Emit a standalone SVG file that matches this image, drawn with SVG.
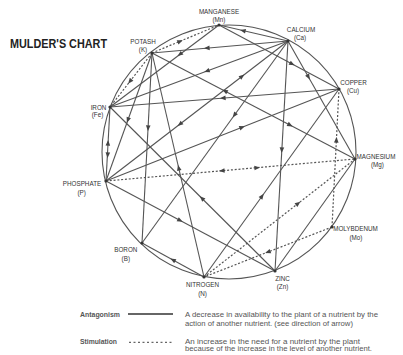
<svg xmlns="http://www.w3.org/2000/svg" width="403" height="355" viewBox="0 0 403 355">
<style>
.c{fill:none;stroke:#555;stroke-width:1.1}
.d{fill:none;stroke:#555;stroke-width:1.2;stroke-dasharray:2 1.8}
.lbl{font-family:"Liberation Sans",Arial,sans-serif;font-size:6.3px;fill:#333;text-anchor:middle}
.lg{font-family:"Liberation Sans",Arial,sans-serif;font-size:6.3px;fill:#555}
.dot{fill:#333}
</style>
<defs>
<polygon id="ah" points="3,0 -2.6,-2.3 -2.6,2.3" fill="#444"/>
</defs>
<rect width="403" height="355" fill="#fff"/>
<text x="10" y="48" font-family="'Liberation Sans',Arial,sans-serif" font-weight="bold" font-size="12.5" fill="#222" textLength="97" lengthAdjust="spacingAndGlyphs">MULDER'S CHART</text>

<g id="ring"><circle class="c" cx="229" cy="152" r="127"/></g>

<g id="connectors">
<!-- antagonism -->
<path class="c" d="M288 41 L219 25"/>
<path class="c" d="M288 41 L152 53"/>
<path class="c" d="M288 41 L110 107"/>
<path class="c" d="M288 41 L106 181"/>
<path class="c" d="M288 41 L142 243"/>
<path class="c" d="M288 41 L275 271"/>
<path class="c" d="M288 41 L355 159"/>
<path class="c" d="M219 25 L339 89"/>
<path class="c" d="M219 25 L110 107"/>
<path class="c" d="M339 89 L110 107"/>
<path class="c" d="M106 181 L339 89"/>
<path class="c" d="M204 277 L339 89"/>
<path class="c" d="M152 53 L355 159"/>
<path class="c" d="M152 53 L142 243"/>
<path class="c" d="M204 277 L152 53"/>
<path class="c" d="M204 277 L142 243"/>
<path class="c" d="M106 181 L275 271"/>
<path class="c" d="M275 271 L110 107"/>
<path class="c" d="M110 107 L106 181"/>
<path class="c" d="M152 53 L106 181"/>
<path class="c" d="M355 159 L275 271"/>
<!-- stimulation -->
<path class="d" d="M152 53 L219 25"/>
<path class="d" d="M152 53 L110 107"/>
<path class="d" d="M106 181 L355 159"/>
<path class="d" d="M204 277 L355 159"/>
<path class="d" d="M332 227 L204 277"/>
<path class="d" d="M332 227 L339 89"/>
<!-- arrowheads -->
<use href="#ah" transform="translate(243 30.6) rotate(193.05)"/>
<use href="#ah" transform="translate(207 48.1) rotate(174.96)"/>
<use href="#ah" transform="translate(207 71) rotate(159.66)"/>
<use href="#ah" transform="translate(242 76.4) rotate(-37.57)"/>
<use href="#ah" transform="translate(180 124.1) rotate(142.43)"/>
<use href="#ah" transform="translate(234.5 115) rotate(125.86)"/>
<use href="#ah" transform="translate(281.8 150) rotate(93.24)"/>
<use href="#ah" transform="translate(308.4 77) rotate(60.41)"/>
<use href="#ah" transform="translate(292 63.9) rotate(28.07)"/>
<use href="#ah" transform="translate(180 54.3) rotate(143.04)"/>
<use href="#ah" transform="translate(223 98.1) rotate(175.5)"/>
<use href="#ah" transform="translate(242 127.3) rotate(-21.54)"/>
<use href="#ah" transform="translate(262 196.2) rotate(-54.32)"/>
<use href="#ah" transform="translate(225 91.1) rotate(207.57)"/>
<use href="#ah" transform="translate(290 125.1) rotate(27.57)"/>
<use href="#ah" transform="translate(148.1 128) rotate(93.01)"/>
<use href="#ah" transform="translate(178.7 168) rotate(-103.07)"/>
<use href="#ah" transform="translate(173 260) rotate(-151.26)"/>
<use href="#ah" transform="translate(180 220.4) rotate(28.03)"/>
<use href="#ah" transform="translate(202 198.4) rotate(-135.17)"/>
<use href="#ah" transform="translate(108 143) rotate(-86.91)"/>
<use href="#ah" transform="translate(107.7 155) rotate(93.09)"/>
<use href="#ah" transform="translate(127.9 120) rotate(109.77)"/>
<use href="#ah" transform="translate(180 41.3) rotate(-22.69)"/>
<use href="#ah" transform="translate(130 81.3) rotate(127.87)"/>
<use href="#ah" transform="translate(222 170.8) rotate(174.95)"/>
<use href="#ah" transform="translate(257 167.7) rotate(-5.05)"/>
<use href="#ah" transform="translate(298 203.5) rotate(-38)"/>
<use href="#ah" transform="translate(268 252) rotate(158.66)"/>
<use href="#ah" transform="translate(336.4 140) rotate(-87.1)"/>
</g>

<g id="node-mn"><circle class="dot" cx="219" cy="25" r="1.6"/><text class="lbl" x="219" y="14">MANGANESE</text><text class="lbl" x="219" y="21.5">(Mn)</text></g>
<g id="node-ca"><circle class="dot" cx="288" cy="41" r="1.6"/><text class="lbl" x="301" y="31.5">CALCIUM</text><text class="lbl" x="300" y="39.5">(Ca)</text></g>
<g id="node-cu"><circle class="dot" cx="339" cy="89" r="1.6"/><text class="lbl" x="353.5" y="85">COPPER</text><text class="lbl" x="353" y="93">(Cu)</text></g>
<g id="node-mg"><circle class="dot" cx="355" cy="159" r="1.6"/><text class="lbl" x="376" y="159">MAGNESIUM</text><text class="lbl" x="377.5" y="167">(Mg)</text></g>
<g id="node-mo"><circle class="dot" cx="332" cy="227" r="1.6"/><text class="lbl" x="355.5" y="230.5">MOLYBDENUM</text><text class="lbl" x="356" y="239.5">(Mo)</text></g>
<g id="node-zn"><circle class="dot" cx="275" cy="271" r="1.6"/><text class="lbl" x="282.5" y="280.5">ZINC</text><text class="lbl" x="282.5" y="289">(Zn)</text></g>
<g id="node-n"><circle class="dot" cx="204" cy="277" r="1.6"/><text class="lbl" x="202.5" y="287.3">NITROGEN</text><text class="lbl" x="202.5" y="295.5">(N)</text></g>
<g id="node-b"><circle class="dot" cx="142" cy="243" r="1.6"/><text class="lbl" x="125.8" y="252">BORON</text><text class="lbl" x="125.8" y="260.5">(B)</text></g>
<g id="node-p"><circle class="dot" cx="106" cy="181" r="1.6"/><text class="lbl" x="82" y="186">PHOSPHATE</text><text class="lbl" x="81.7" y="195">(P)</text></g>
<g id="node-fe"><circle class="dot" cx="110" cy="107" r="1.6"/><text class="lbl" x="98.5" y="109.5">IRON</text><text class="lbl" x="97.5" y="117">(Fe)</text></g>
<g id="node-k"><circle class="dot" cx="152" cy="53" r="1.6"/><text class="lbl" x="143" y="44">POTASH</text><text class="lbl" x="143" y="51.5">(K)</text></g>

<g id="legend">
<text class="lg" x="80" y="317" font-weight="bold" fill="#333" textLength="40" lengthAdjust="spacingAndGlyphs">Antagonism</text>
<line x1="128" y1="314" x2="173" y2="314" stroke="#666" stroke-width="1.8"/>
<text class="lg" x="185" y="317" textLength="193" lengthAdjust="spacingAndGlyphs">A decrease in availability to the plant of a nutrient by the</text>
<text class="lg" x="185" y="325.5" textLength="168" lengthAdjust="spacingAndGlyphs">action of another nutrient. (see direction of arrow)</text>
<text class="lg" x="80" y="344" font-weight="bold" fill="#333" textLength="37" lengthAdjust="spacingAndGlyphs">Stimulation</text>
<line x1="129" y1="342.3" x2="173" y2="342.3" stroke="#666" stroke-width="1.3" stroke-dasharray="2 2.5"/>
<text class="lg" x="185" y="344" textLength="175" lengthAdjust="spacingAndGlyphs">An increase in the need for a nutrient by the plant</text>
<text class="lg" x="185" y="350.5" textLength="187" lengthAdjust="spacingAndGlyphs">because of the increase in the level of another nutrient.</text>
</g>
</svg>
